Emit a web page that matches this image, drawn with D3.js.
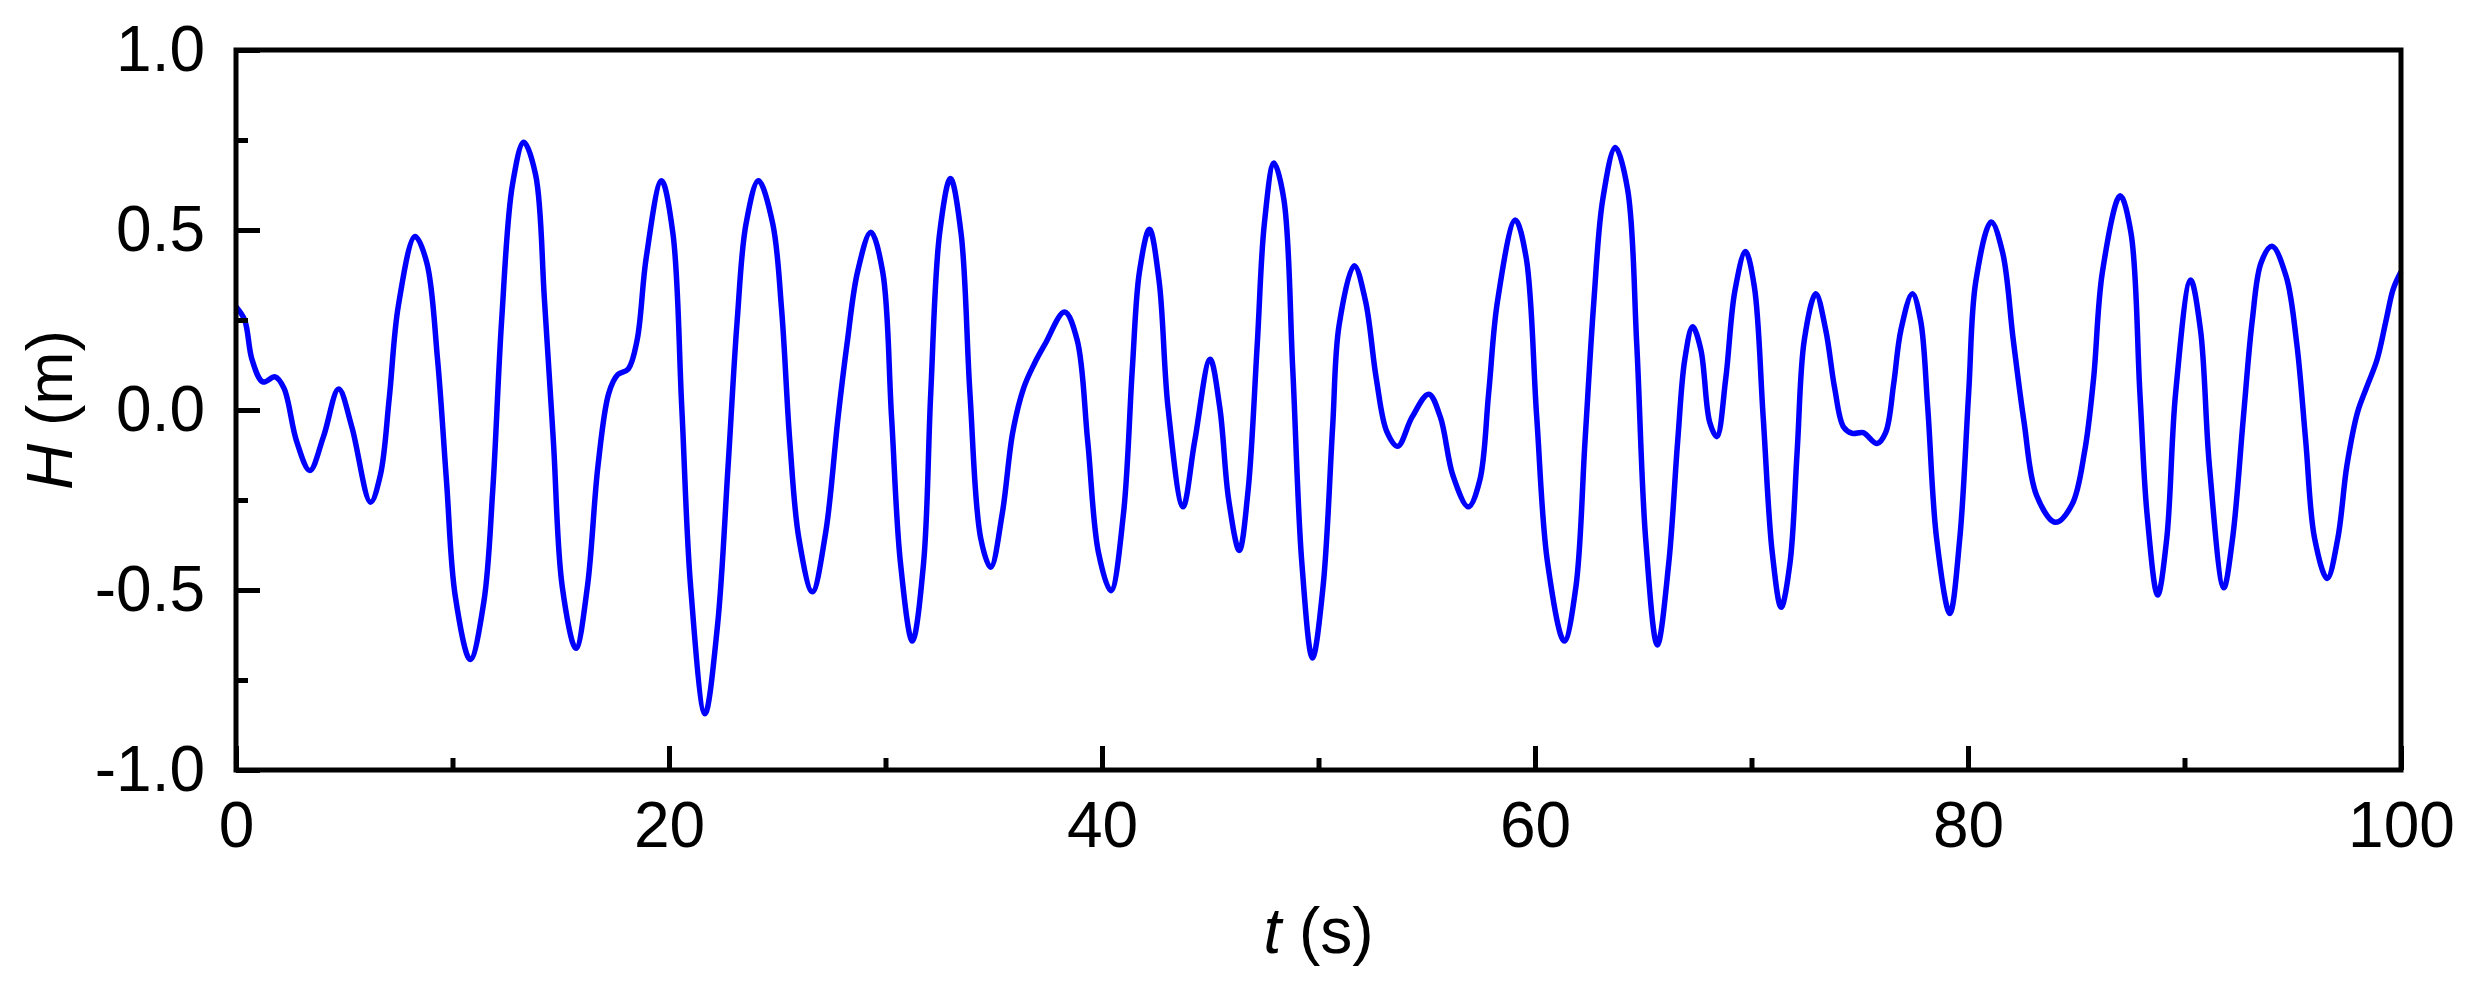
<!DOCTYPE html>
<html>
<head>
<meta charset="utf-8">
<script src="https://cdn.jsdelivr.net/npm/d3@7/dist/d3.min.js"></script>
<style>
  html, body { margin: 0; padding: 0; background: #fff; }
  svg { display: block; }
  text { font-family: "Liberation Sans", Arial, Helvetica, sans-serif; }
</style>
</head>
<body>
<svg id="chart" width="2466" height="985"></svg>
<script>
// ---- data ----
const timeS = [
  0, 0.4, 0.74, 1.24, 1.81, 2.22, 2.8, 3.41, 4.04, 4.74, 5.35, 6.21, 6.67, 7.08, 7.5, 8.27, 8.81, 9.31, 9.72,
  10.13, 10.82, 11.45, 11.86, 12.27, 12.77, 13.29, 13.84, 14.25, 14.66, 15.07, 15.7, 16.23, 16.72, 17.22,
  17.63, 18.12, 18.53, 18.95, 19.65, 20.18, 20.59, 21.0, 21.66, 22.24, 22.73, 23.15, 23.56, 24.13, 24.79,
  25.2, 25.58, 26.0, 26.62, 27.23, 27.81, 28.22, 28.71, 29.32, 29.87, 30.28, 30.69, 31.24, 31.76, 32.09,
  32.5, 33.0, 33.49, 33.9, 34.4, 34.86, 35.39, 35.88, 36.38, 36.87, 37.36, 38.27, 38.85, 39.34, 39.84,
  40.41, 40.99, 41.4, 41.73, 42.19, 42.64, 43.05, 43.74, 44.28, 44.99, 45.44, 45.85, 46.34, 46.75, 47.17,
  47.5, 47.94, 48.4, 48.81, 49.23, 49.72, 50.21, 50.65, 50.95, 51.65, 52.17, 52.67, 53.16, 53.66, 54.32,
  55.09, 55.63, 56.21, 56.92, 57.45, 57.86, 58.27, 59.09, 59.59, 60.08, 60.58, 61.35, 61.89, 62.31, 62.72,
  63.13, 63.71, 64.28, 64.7, 65.11, 65.65, 66.18, 66.59, 66.92, 67.28, 67.66, 68.07, 68.4, 68.81, 69.23,
  69.72, 70.13, 70.54, 70.96, 71.37, 71.78, 72.11, 72.44, 72.97, 73.43, 73.84, 74.25, 74.66, 75.16, 75.8,
  76.2, 76.57, 76.9, 77.43, 77.81, 78.14, 78.55, 79.16, 79.62, 80.03, 80.36, 81.07, 81.6, 82.09, 82.59,
  83.16, 84.04, 84.81, 85.39, 85.8, 86.21, 87.03, 87.53, 87.94, 88.27, 88.76, 89.18, 89.59, 90.28, 90.74,
  91.15, 91.81, 92.22, 92.72, 93.13, 93.54, 94.04, 94.7, 95.19, 95.6, 96.01, 96.59, 97.08, 97.5, 97.99,
  98.4, 98.9, 99.31, 99.64, 100
];
const heightM = [
  0.287, 0.25, 0.14, 0.078, 0.092, 0.06, -0.087, -0.168, -0.074, 0.058, -0.047, -0.256, -0.18, 0.034, 0.29, 0.482, 0.41, 0.14, -0.195,
  -0.518, -0.693, -0.532, -0.222, 0.249, 0.626, 0.744, 0.653, 0.303, -0.087, -0.491, -0.662, -0.491, -0.155, 0.047,
  0.098, 0.114, 0.195, 0.424, 0.637, 0.491, 0.007, -0.491, -0.844, -0.599, -0.155, 0.249, 0.518, 0.637, 0.518,
  0.28, -0.087, -0.357, -0.505, -0.343, -0.02, 0.182, 0.384, 0.494, 0.384, -0.02, -0.424, -0.642, -0.424, 0.047,
  0.491, 0.643, 0.491, 0.047, -0.357, -0.437, -0.289, -0.061, 0.061, 0.128, 0.182, 0.272, 0.195, -0.087, -0.397,
  -0.502, -0.289, 0.114, 0.384, 0.502, 0.357, 0.007, -0.269, -0.087, 0.141, 0.007, -0.249, -0.39, -0.222, 0.182,
  0.518, 0.686, 0.585, 0.114, -0.424, -0.689, -0.491, -0.05, 0.235, 0.401, 0.303, 0.087, -0.061, -0.101, -0.02,
  0.044, -0.02, -0.182, -0.269, -0.195, 0.047, 0.303, 0.528, 0.424, -0.02, -0.424, -0.642, -0.491, -0.087, 0.303,
  0.585, 0.729, 0.612, 0.182, -0.357, -0.653, -0.424, -0.087, 0.141, 0.231, 0.168, -0.034, -0.074, 0.087, 0.33,
  0.44, 0.343, -0.02, -0.397, -0.548, -0.424, -0.114, 0.195, 0.323, 0.222, 0.061, -0.047, -0.065, -0.063, -0.093,
  -0.062, 0.074, 0.222, 0.323, 0.249, 0.007, -0.357, -0.565, -0.357, 0.047, 0.357, 0.522, 0.437, 0.195, -0.034,
  -0.236, -0.312, -0.262, -0.114, 0.087, 0.384, 0.595, 0.491, 0.047, -0.289, -0.514, -0.357, 0.047, 0.361, 0.222,
  -0.155, -0.494, -0.357, -0.02, 0.249, 0.41, 0.455, 0.37, 0.182, -0.087, -0.357, -0.468, -0.357, -0.155, -0.007,
  0.061, 0.141, 0.249, 0.336, 0.384
];
const xMajorTicks = [0, 20, 40, 60, 80, 100];
const xMinorTicks = [10, 30, 50, 70, 90];
const xTickLabels = ["0", "20", "40", "60", "80", "100"];
const yMajorTicks = [-1.0, -0.5, 0.0, 0.5, 1.0];
const yMinorTicks = [-0.75, -0.25, 0.25, 0.75];
const yTickLabels = ["-1.0", "-0.5", "0.0", "0.5", "1.0"];
const xTitleVar = "t", xTitleUnit = " (s)";
const yTitleVar = "H", yTitleUnit = " (m)";

// ---- layout ----
const L = 236, R = 2401, T = 50, B = 770;
const FS = 64, SW = 5;
const svg = d3.select("#chart");
svg.append("rect").attr("width", 2466).attr("height", 985).attr("fill", "#fff");

const x = d3.scaleLinear().domain([0, 100]).range([L, R]);
const y = d3.scaleLinear().domain([-1, 1]).range([B, T]);

const pts = timeS.map((t, i) => [t, heightM[i]]);
const line = d3.line().x(d => x(d[0])).y(d => y(d[1])).curve(d3.curveCatmullRom.alpha(0.5));

svg.append("path").datum(pts)
  .attr("d", line)
  .attr("fill", "none")
  .attr("stroke", "#0000ff")
  .attr("stroke-width", 5.5)
  .attr("stroke-linejoin", "round");

function styleAxis(g) {
  g.select(".domain").remove();
  g.selectAll(".tick line").attr("stroke", "#000").attr("stroke-width", SW);
  g.selectAll(".tick text").attr("fill", "#000").attr("font-size", FS)
    .attr("font-family", '"Liberation Sans", Arial, sans-serif');
}

// x axis major (with labels)
svg.append("g").attr("transform", `translate(0,${B})`)
  .call(d3.axisBottom(x).tickValues(xMajorTicks)
    .tickFormat((d, i) => xTickLabels[i]).tickSize(-24).tickPadding(32))
  .call(styleAxis);
// x minor
svg.append("g").attr("transform", `translate(0,${B})`)
  .call(d3.axisBottom(x).tickValues(xMinorTicks).tickFormat("").tickSize(-12))
  .call(styleAxis);
// y major
svg.append("g").attr("transform", `translate(${L},0)`)
  .call(d3.axisLeft(y).tickValues(yMajorTicks)
    .tickFormat((d, i) => yTickLabels[i]).tickSize(-24).tickPadding(31))
  .call(styleAxis);
// y minor
svg.append("g").attr("transform", `translate(${L},0)`)
  .call(d3.axisLeft(y).tickValues(yMinorTicks).tickFormat("").tickSize(-12))
  .call(styleAxis);

// frame
svg.append("rect")
  .attr("x", L).attr("y", T).attr("width", R - L).attr("height", B - T)
  .attr("fill", "none").attr("stroke", "#000").attr("stroke-width", SW)
  .attr("stroke-linejoin", "miter");

// axis titles
const xt = svg.append("text")
  .attr("x", (L + R) / 2).attr("y", 953)
  .attr("text-anchor", "middle").attr("font-size", FS).attr("fill", "#000");
xt.append("tspan").attr("font-style", "italic").text(xTitleVar);
xt.append("tspan").text(xTitleUnit);

const yt = svg.append("text")
  .attr("transform", `translate(72,${(T + B) / 2}) rotate(-90)`)
  .attr("text-anchor", "middle").attr("font-size", FS).attr("fill", "#000");
yt.append("tspan").attr("font-style", "italic").text(yTitleVar);
yt.append("tspan").text(yTitleUnit);
</script>
</body>
</html>
